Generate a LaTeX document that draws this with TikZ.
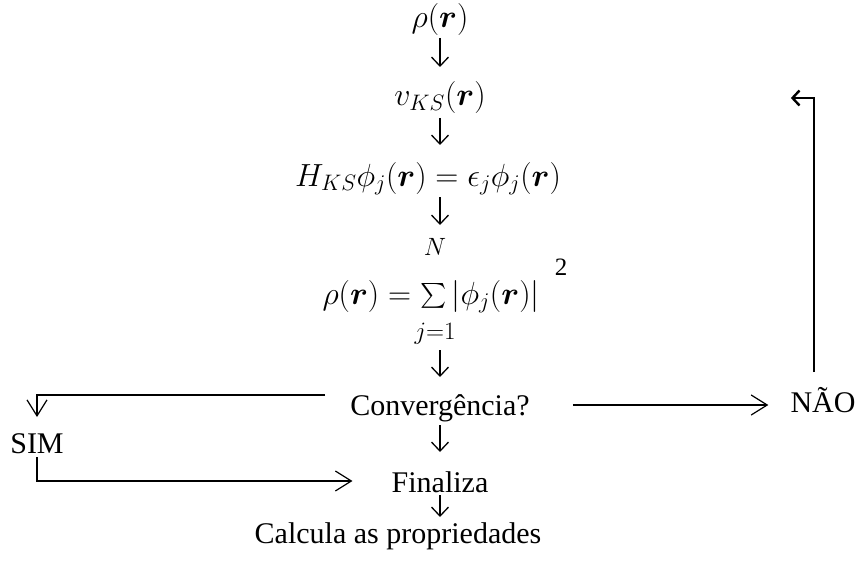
\RequirePackage{fix-cm}
\documentclass[tikz,border=0pt]{standalone}
\usepackage{amsmath,bm}
\usepackage{fontspec}
\setmainfont{Liberation Serif}
\usetikzlibrary{arrows.meta}
\begin{document}
\begin{tikzpicture}[x=1pt,y=-1pt,
  txt/.style={inner sep=0pt, anchor=base, font=\fontsize{30}{36}\selectfont},
  mtxt/.style={inner sep=0pt, anchor=base, font=\fontsize{32}{38}\selectfont},
  small/.style={inner sep=0pt, anchor=base, font=\fontsize{25}{30}\selectfont},
  dn/.style={line width=1.3pt, -{Straight Barb[length=9pt,width=17pt]}},
  big/.style={line width=1.2pt, -{Straight Barb[length=16pt,width=20pt]}},
  ret/.style={line width=1.5pt, -{Straight Barb[length=7pt,width=15pt,line width=2.4pt]}}]
\useasboundingbox (0,0) rectangle (861,572);
\node[mtxt] (rho1) at (440,28) {$\rho(\boldsymbol{r})$};
\node[mtxt] (vks) at (440,106) {$v_{KS}(\boldsymbol{r})$};
\node[mtxt] (hks) at (428,186) {$H_{KS}\phi_j(\boldsymbol{r})=\epsilon_j\phi_j(\boldsymbol{r})$};
\node[small] (N) at (435,255) {$N$};
\node[mtxt] (sumeq) at (431,304) {$\rho(\boldsymbol{r})=\textstyle\sum|\phi_j(\boldsymbol{r})|$};
\node[small] (j1) at (435,339) {$j{=}1$};
\node[small] (two) at (561,275) {2};
\node[txt] (conv) at (440,415) {Convergência?};
\node[txt] (nao) at (823,412) {NÃO};
\node[txt] (sim) at (37,453) {SIM};
\node[txt] (fin) at (440,492) {Finaliza};
\node[txt] (calc) at (398,543) {Calcula as propriedades};
\draw[dn] ([yshift=-10pt]rho1.base) -- ([yshift=39pt]vks.base);
\draw[dn] ([yshift=-12pt]vks.base) -- ([xshift=12pt,yshift=41pt]hks.base);
\draw[dn] ([xshift=12pt,yshift=-11pt]hks.base) -- ([xshift=5pt,yshift=30pt]N.base);
\draw[dn] ([yshift=65pt]conv.base) -- ([yshift=38pt]conv.base);
\draw[dn] ([yshift=-10pt]conv.base) -- ([yshift=40pt]fin.base);
\draw[dn] ([yshift=-3pt]fin.base) -- ([xshift=42pt,yshift=26pt]calc.base);
\draw[big] ([xshift=-25pt,yshift=20pt]conv.base west) -| ([yshift=36pt]sim.base);
\draw[big] ([yshift=-4pt]sim.base) |- ([xshift=-39pt,yshift=11pt]fin.base west);
\draw[big] ([xshift=43pt,yshift=10pt]conv.base east) -- ([xshift=-22pt,yshift=7pt]nao.base west);
\draw[ret] ([xshift=-9pt,yshift=40pt]nao.base) |- ([xshift=305pt,yshift=8pt]vks.base east);
\end{tikzpicture}
\end{document}
